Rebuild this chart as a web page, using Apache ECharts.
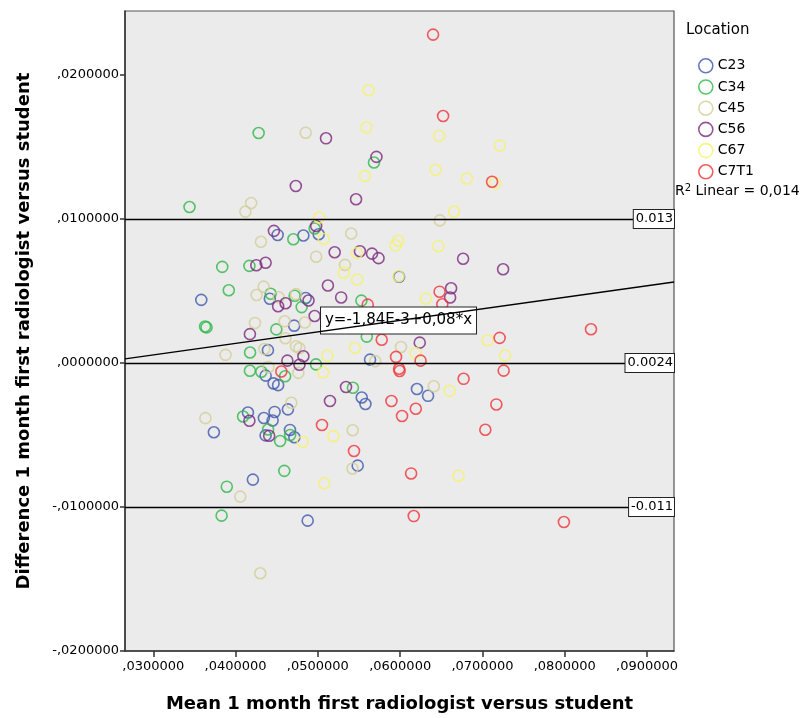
<!DOCTYPE html>
<html lang="en">
<head>
<meta charset="UTF-8">
<title>Mean vs difference</title>
<style>
    html, body { margin: 0; padding: 0; background: #fff; }
    #main { width: 801px; height: 718px; }
</style>
<script src="https://cdn.jsdelivr.net/npm/echarts@6.0.0/dist/echarts.min.js"></script>
</head>
<body>
<div id="main"></div>
<script>
// points per location: [mean, difference]
let c23 = [[0.04511,0.00889],[0.04824,0.00885],[0.05010,0.00894],[0.03583,0.00438],[0.04416,0.00446],[0.04852,0.00451],
    [0.04712,0.00259],[0.04393,0.00089],[0.04365,-0.00088],[0.04462,-0.00142],[0.04517,-0.00154],[0.05634,0.00023],
    [0.05987,0.00599],[0.05533,-0.00240],[0.05578,-0.00285],[0.04150,-0.00344],[0.04344,-0.00382],[0.04474,-0.00340],
    [0.04450,-0.00399],[0.04636,-0.00322],[0.03736,-0.00481],[0.04365,-0.00503],[0.04661,-0.00465],[0.04714,-0.00516],
    [0.04210,-0.00810],[0.04876,-0.01095],[0.05484,-0.00713],[0.06204,-0.00181],[0.06339,-0.00228]];
let c34 = [[0.04280,0.01597],[0.05682,0.01392],[0.03440,0.01083],[0.04702,0.00859],[0.04961,0.00934],[0.03838,0.00667],
    [0.04168,0.00674],[0.03917,0.00505],[0.04426,0.00481],[0.04718,0.00467],[0.04803,0.00388],[0.05529,0.00433],
    [0.03629,0.00253],[0.03647,0.00247],[0.04495,0.00233],[0.04176,0.00073],[0.04174,-0.00054],[0.04313,-0.00061],
    [0.04602,-0.00092],[0.04977,-0.00010],[0.05426,-0.00172],[0.05594,0.00183],[0.04091,-0.00372],[0.04395,-0.00462],
    [0.04541,-0.00542],[0.04663,-0.00500],[0.04592,-0.00749],[0.03893,-0.00859],[0.03830,-0.01060]];
let c45 = [[0.04852,0.01599],[0.04189,0.01111],[0.04119,0.01051],[0.06482,0.00990],[0.04308,0.00842],[0.05405,0.00899],
    [0.04979,0.00738],[0.05330,0.00681],[0.04341,0.00530],[0.04255,0.00472],[0.04523,0.00456],[0.04734,0.00478],
    [0.04235,0.00278],[0.04596,0.00290],[0.04842,0.00281],[0.04605,0.00172],[0.03878,0.00056],[0.04350,0.00097],
    [0.04734,0.00116],[0.04775,0.00102],[0.04399,-0.00029],[0.04763,-0.00069],[0.05697,0.00013],[0.06010,0.00111],
    [0.04678,-0.00276],[0.03633,-0.00383],[0.06409,-0.00162],[0.05423,-0.00467],[0.05421,-0.00733],[0.04057,-0.00928],
    [0.04300,-0.01460]];
let c56 = [[0.05099,0.01560],[0.05712,0.01431],[0.04732,0.01229],[0.05464,0.01137],[0.04466,0.00917],[0.04979,0.00951],
    [0.05204,0.00769],[0.05511,0.00776],[0.05658,0.00759],[0.05737,0.00728],[0.06765,0.00724],[0.07251,0.00651],
    [0.04252,0.00679],[0.04365,0.00696],[0.05122,0.00538],[0.05283,0.00455],[0.04517,0.00394],[0.04608,0.00415],
    [0.04886,0.00434],[0.04961,0.00326],[0.06619,0.00519],[0.06607,0.00455],[0.04174,0.00200],[0.04824,0.00047],
    [0.04629,0.00016],[0.04776,-0.00012],[0.06238,0.00141],[0.05342,-0.00167],[0.05147,-0.00264],[0.04168,-0.00401],
    [0.04408,-0.00505]];
let c67 = [[0.05618,0.01894],[0.05590,0.01637],[0.05573,0.01299],[0.06473,0.01578],[0.07212,0.01509],[0.06429,0.01342],
    [0.06810,0.01281],[0.07153,0.01250],[0.06656,0.01052],[0.05016,0.01010],[0.05071,0.00861],[0.05476,0.00763],
    [0.05314,0.00627],[0.05478,0.00580],[0.05977,0.00849],[0.05943,0.00817],[0.06464,0.00811],[0.05981,0.00602],
    [0.06311,0.00447],[0.05116,0.00051],[0.05064,-0.00066],[0.05450,0.00106],[0.06187,0.00069],[0.07062,0.00156],
    [0.07275,0.00053],[0.06601,-0.00194],[0.04815,-0.00547],[0.05189,-0.00508],[0.05079,-0.00835],[0.06710,-0.00783]];
let c7t1 = [[0.06400,0.02280],[0.06522,0.01715],[0.07117,0.01258],[0.06479,0.00495],[0.06512,0.00408],[0.05606,0.00405],
    [0.05776,0.00161],[0.05950,0.00042],[0.06248,0.00016],[0.05987,-0.00040],[0.05993,-0.00056],[0.04556,-0.00059],
    [0.07209,0.00174],[0.08319,0.00234],[0.07258,-0.00053],[0.06771,-0.00110],[0.05894,-0.00264],[0.06190,-0.00318],
    [0.06023,-0.00368],[0.07169,-0.00288],[0.05050,-0.00431],[0.05439,-0.00611],[0.07035,-0.00464],[0.06133,-0.00767],
    [0.06165,-0.01063],[0.07990,-0.01104]];

let locations = ['C23', 'C34', 'C45', 'C56', 'C67', 'C7T1'];
let groups = [c23, c34, c45, c56, c67, c7t1];
let colors = ['#3E58AC', '#2EB848', '#D3CE97', '#7C287D', '#F5F26A', '#EF3338'];

let xTicks = [0.03, 0.04, 0.05, 0.06, 0.07, 0.08, 0.09];
let yTicks = [-0.02, -0.01, 0, 0.01, 0.02];
let xMin = 0.02656, xMax = 0.09328;
let yMin = -0.02, yMax = 0.02444;

// mean difference and limits of agreement
let refLines = [0.013, 0.0024, -0.011];
let refLabels = ['0.013', '0.0024', '-0.011'];

// linear fit y = a + b*x
let fitA = -0.00184, fitB = 0.08;
let fitText = 'y=-1,84E-3+0,08*x';
let fitLabelX = 0.0598;
let r2Text = 'R{sup|2} Linear = 0,014';

function fmt(v) {
    let s = Math.abs(v).toFixed(7).replace('0.', ',');
    return (v < -1e-12 ? '-' : '') + s;
}

let chart = echarts.init(document.getElementById('main'));

let series = [];
for (let i = 0; i < groups.length; i++) {
    series.push({
        name: locations[i],
        type: 'scatter',
        data: groups[i],
        symbol: 'circle',
        symbolSize: 11,
        itemStyle: { color: 'rgba(0,0,0,0)', borderColor: colors[i], borderWidth: 1.6 },
        emphasis: { disabled: true },
        z: 3
    });
}

series.push({
    name: 'fit',
    type: 'line',
    data: [[xMin, fitA + fitB * xMin], [xMax, fitA + fitB * xMax]],
    symbol: 'none',
    lineStyle: { color: '#000', width: 1.3 },
    silent: true,
    markLine: {
        silent: true,
        symbol: 'none',
        animation: false,
        lineStyle: { color: '#000', width: 1.3, type: 'solid' },
        label: {
            position: 'insideEnd',
            distance: 0,
            color: '#000',
            fontFamily: 'DejaVu Sans',
            fontSize: 13,
            backgroundColor: '#fff',
            borderColor: '#222',
            borderWidth: 1,
            padding: [3, 1, 2, 2]
        },
        data: refLines.map(function (v, i) {
            return { yAxis: v, label: { formatter: refLabels[i] } };
        })
    },
    markPoint: {
        silent: true,
        symbol: 'rect',
        symbolSize: 0,
        animation: false,
        label: {
            show: true,
            position: 'inside',
            formatter: fitText,
            color: '#000',
            fontFamily: 'DejaVu Sans',
            fontSize: 15,
            backgroundColor: '#fff',
            borderColor: '#222',
            borderWidth: 1,
            padding: [6, 4, 5, 4]
        },
        data: [{ coord: [fitLabelX, fitA + fitB * fitLabelX] }]
    },
    z: 5
});

let option = {
    animation: false,
    backgroundColor: '#fff',
    grid: {
        left: 125, right: 127, top: 11, bottom: 67,
        show: true,
        backgroundColor: '#EBEBEB',
        borderColor: '#555',
        borderWidth: 1.2,
        outerBoundsMode: 'none'
    },
    legend: {
        data: locations,
        orient: 'vertical',
        left: 693,
        top: 53,
        icon: 'circle',
        itemWidth: 14,
        itemHeight: 14,
        itemGap: 5.6,
        selectedMode: false,
        itemStyle: { color: 'rgba(0,0,0,0)', borderWidth: 1.6 },
        textStyle: { fontFamily: 'DejaVu Sans', fontSize: 14, color: '#000' }
    },
    xAxis: {
        type: 'value',
        min: xMin,
        max: xMax,
        name: 'Mean 1 month first radiologist versus student',
        nameLocation: 'middle',
        nameGap: 44,
        nameTextStyle: { fontFamily: 'DejaVu Sans', fontWeight: 'bold', fontSize: 18, color: '#000' },
        splitLine: { show: false },
        axisLine: { onZero: false, lineStyle: { color: '#333', width: 1.5 } },
        axisTick: { customValues: xTicks, length: 6, lineStyle: { color: '#333', width: 1.5 } },
        axisLabel: {
            customValues: xTicks,
            formatter: fmt,
            margin: 9,
            fontFamily: 'DejaVu Sans',
            fontSize: 13,
            color: '#000'
        }
    },
    yAxis: {
        type: 'value',
        min: yMin,
        max: yMax,
        name: 'Difference 1 month first radiologist versus student',
        nameLocation: 'middle',
        nameGap: 92,
        nameTextStyle: { fontFamily: 'DejaVu Sans', fontWeight: 'bold', fontSize: 18, color: '#000' },
        splitLine: { show: false },
        axisLine: { onZero: false, lineStyle: { color: '#333', width: 1.5 } },
        axisTick: { customValues: yTicks, length: 5, lineStyle: { color: '#333', width: 1.5 } },
        axisLabel: {
            customValues: yTicks,
            formatter: fmt,
            margin: 6,
            fontFamily: 'DejaVu Sans',
            fontSize: 13,
            color: '#000'
        }
    },
    graphic: [
        {
            type: 'text',
            left: 686,
            top: 23,
            style: { text: 'Location', font: '15px "DejaVu Sans"', fill: '#000' }
        },
        {
            type: 'text',
            left: 675,
            top: 183,
            style: {
                text: r2Text,
                font: '14px "DejaVu Sans"',
                fill: '#000',
                rich: { sup: { fontSize: 10, verticalAlign: 'top', padding: [0, 0, 6, 0], fontFamily: 'DejaVu Sans' } }
            }
        }
    ],
    series: series
};

chart.setOption(option);
</script>
</body>
</html>
